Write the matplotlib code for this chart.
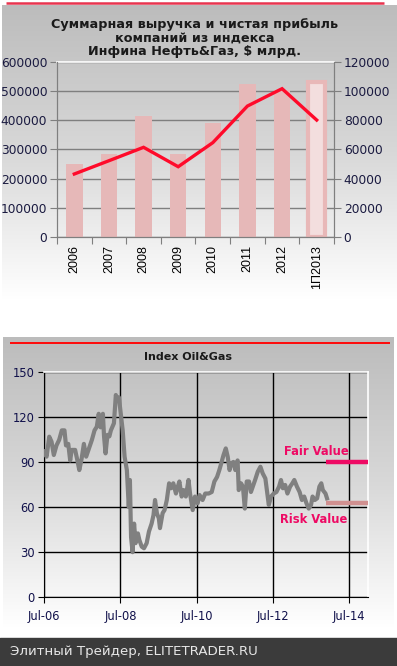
import numpy as np
import matplotlib
matplotlib.use("Agg")
import matplotlib.pyplot as plt
from matplotlib.colors import LinearSegmentedColormap

# ---------------- data ----------------
years = ["2006", "2007", "2008", "2009", "2010", "2011", "2012", "1П2013"]
revenue = [250000, 283000, 415000, 283000, 390000, 525000, 504000, 532000]
profit = [43200, 52300, 61500, 48200, 64700, 89800, 101700, 80200]

idx_t = [2006.50, 2006.56, 2006.63, 2006.69, 2006.75, 2006.82, 2006.89, 2006.96,
         2007.03, 2007.07, 2007.13, 2007.18, 2007.22, 2007.31, 2007.37, 2007.42,
         2007.48, 2007.54, 2007.60, 2007.66, 2007.75, 2007.82, 2007.88, 2007.93,
         2007.98, 2008.04, 2008.07, 2008.11, 2008.16, 2008.21, 2008.25, 2008.29,
         2008.33, 2008.38, 2008.42, 2008.46, 2008.51, 2008.56, 2008.61, 2008.67,
         2008.72, 2008.75, 2008.78, 2008.82, 2008.86, 2008.90, 2008.96, 2009.00,
         2009.06, 2009.12, 2009.19, 2009.25, 2009.32, 2009.37, 2009.41, 2009.46,
         2009.51, 2009.54, 2009.61, 2009.66, 2009.72, 2009.78, 2009.83, 2009.89,
         2009.96, 2010.01, 2010.05, 2010.11, 2010.16, 2010.22, 2010.29, 2010.33,
         2010.40, 2010.46, 2010.53, 2010.58, 2010.66, 2010.73, 2010.82, 2010.90,
         2010.97, 2011.04, 2011.10, 2011.15, 2011.21, 2011.27, 2011.32, 2011.37,
         2011.41, 2011.47, 2011.52, 2011.58, 2011.61, 2011.67, 2011.72, 2011.77,
         2011.82, 2011.88, 2011.93, 2011.98, 2012.04, 2012.11, 2012.18, 2012.24,
         2012.31, 2012.35, 2012.40, 2012.46, 2012.53, 2012.60, 2012.67, 2012.72,
         2012.77, 2012.83, 2012.89, 2012.96, 2013.02, 2013.07, 2013.14, 2013.21,
         2013.27, 2013.33, 2013.39, 2013.45, 2013.51, 2013.55, 2013.61, 2013.67,
         2013.73, 2013.78, 2013.82, 2013.89, 2013.93]
idx_v = [97, 93.5, 106.8, 103.5, 94.6, 101, 104.6, 111,
         111, 101, 102, 91, 98, 98, 91, 84.6,
         92, 102, 93.5, 98, 104.6, 111, 113.4, 122,
         113, 122, 107, 95.7, 108, 107, 111, 113.4,
         115.7, 134.5, 131, 133, 122, 111, 93.5, 84.6,
         60, 78, 40, 30, 49, 36, 42.5, 38,
         33.7, 32.6, 36, 43.7, 49, 54.7, 64.7, 55.8,
         52.5, 46, 56, 58, 64.7, 75.8, 72.5, 75.8,
         69, 73.6, 77, 67, 71.3, 67, 78, 69,
         58, 67, 62.5, 68, 64.7, 69, 69, 70,
         77, 80, 84.6, 89, 94.6, 99, 93.5, 84.6,
         89, 90, 84.6, 91, 71.3, 75.8, 73.6, 59,
         77, 77, 70, 73.6, 78, 83.5, 86.8, 82.4,
         79, 71, 61.4, 67, 69, 70, 73.6, 78,
         72.5, 74.7, 69, 73.6, 75.8, 78, 73.6, 70,
         64.7, 67, 62.5, 59, 61.4, 67, 64.7, 65.8,
         73.6, 75.8, 71.3, 69, 65.8]
fair_value = 90
risk_value = 62.5
x_ticks = [2006.5, 2008.5, 2010.5, 2012.5, 2014.5]
x_tick_labels = ["Jul-06", "Jul-08", "Jul-10", "Jul-12", "Jul-14"]

# ---------------- figure ----------------
W, H = 397, 666
fig = plt.figure(figsize=(W / 100, H / 100), dpi=100)
fig.patch.set_facecolor("white")

def px_rect(x0, y0, x1, y1):
    return [x0 / W, 1 - y1 / H, (x1 - x0) / W, (y1 - y0) / H]

grad_cmap = LinearSegmentedColormap.from_list("g", ["#bcbcbc", "#d8d8d8", "#ffffff"])

def gradient_panel(x0, y0, x1, y1):
    ax = fig.add_axes(px_rect(x0, y0, x1, y1), zorder=-10)
    g = np.linspace(0, 1, 256).reshape(-1, 1)
    ax.imshow(g, aspect="auto", cmap=grad_cmap, extent=[0, 1, 0, 1], origin="upper")
    ax.set_axis_off()
    return ax

gradient_panel(2, 5, 397, 300)
gradient_panel(3, 337, 394, 628)

# header red lines
bg = fig.add_axes([0, 0, 1, 1], zorder=-5)
bg.set_xlim(0, W); bg.set_ylim(H, 0); bg.set_axis_off(); bg.patch.set_alpha(0)
bg.plot([6, 384], [3, 3], color="#e8344e", lw=1.8, solid_capstyle="butt")
bg.plot([10, 390], [343, 343], color="#ff0a0a", lw=1.4, solid_capstyle="butt")
# footer
bg.fill_between([0, W], 638, 666, color="#3b3b3b")
bg.text(10, 652, "Элитный Трейдер, ELITETRADER.RU", color="#e6e6e6",
        fontsize=9.6, va="center", ha="left", family="DejaVu Sans")

navy = "#1a1a40"

# ---------------- upper chart ----------------
ax1 = fig.add_axes(px_rect(57, 62, 334, 237))
ax1.patch.set_alpha(0)
x = np.arange(len(years))
bar_colors = ["#e6b8b8"] * (len(years) - 1) + ["#f3dede"]
edge_colors = ["none"] * (len(years) - 1) + ["#e8b8b8"]
lws = [0] * (len(years) - 1) + [3.0]
ax1.bar(x, revenue, width=0.48, color=bar_colors, edgecolor=edge_colors,
        linewidth=lws, zorder=2)
ax1.set_xlim(-0.5, len(years) - 0.5)
ax1.set_ylim(0, 600000)
ax1.set_yticks(np.arange(0, 600001, 100000))
ax1.set_yticklabels([str(v) for v in range(0, 600001, 100000)])
ax1.yaxis.grid(True, color="#7f7f7f", lw=1.0, zorder=0)
ax1.set_axisbelow(True)
ax1.set_xticks(np.arange(-0.5, len(years), 1))
ax1.set_xticklabels([])
ax1.set_xticks(x, minor=True)
ax1.set_xticklabels(years, minor=True, rotation=90, family="Liberation Sans",
                    fontsize=9, color="#000000")
ax1.tick_params(axis="x", which="minor", length=0, pad=6)
ax1.tick_params(axis="x", which="major", length=5, color="#7f7f7f", direction="out")
ax1.tick_params(axis="y", length=5, color="#7f7f7f", labelsize=8.8,
                labelcolor=navy, pad=2)
for s in ["left", "bottom", "right"]:
    ax1.spines[s].set_color("#7f7f7f")
ax1.spines["top"].set_color("white")
ax1.spines["top"].set_linewidth(1.2)

ax2 = ax1.twinx()
ax2.plot(x, profit, color="#ff0a2a", lw=2.4, zorder=3, solid_joinstyle="miter")
ax2.set_ylim(0, 120000)
ax2.set_yticks(np.arange(0, 120001, 20000))
ax2.set_yticklabels([str(v) for v in range(0, 120001, 20000)])
ax2.tick_params(axis="y", length=5, color="#7f7f7f", labelsize=8.8,
                labelcolor=navy, pad=2)
for s in ["left", "bottom", "right"]:
    ax2.spines[s].set_color("#7f7f7f")
ax2.spines["top"].set_visible(False)

fig.text(195 / W, 1 - 38 / H,
         "Суммарная выручка и чистая прибыль\nкомпаний из индекса\nИнфина Нефть&Газ, $ млрд.",
         ha="center", va="center", fontsize=9.2, fontweight="bold",
         color="#1a1a1a", linespacing=1.05, family="DejaVu Sans")

# ---------------- lower chart ----------------
ax3 = fig.add_axes(px_rect(44.3, 371.7, 367.7, 597.3))
ax3.patch.set_alpha(0)
ax3.plot(idx_t, idx_v, color="#808080", lw=3.0, solid_joinstyle="round", zorder=3)
xmax = 2006.5 + (367.7 - 44.3) / (348.7 - 44.3) * 8
ax3.set_xlim(2006.5, xmax)
ax3.set_ylim(0, 150)
ax3.set_yticks(np.arange(0, 151, 30))
ax3.set_xticks(x_ticks)
ax3.set_xticklabels(x_tick_labels)
ax3.grid(True, color="black", lw=1.0, zorder=1)
ax3.tick_params(axis="both", length=4, color="black", labelsize=8.3,
                labelcolor="#10104a", pad=3)
ax3.tick_params(axis="x", pad=5)
ax3.spines["left"].set_color("black")
ax3.spines["bottom"].set_color("black")
ax3.spines["top"].set_color("white")
ax3.spines["right"].set_color("white")
ax3.spines["top"].set_linewidth(1.2)
ax3.spines["right"].set_linewidth(1.2)

fx0 = 2006.5 + (325.7 - 44.3) / (348.7 - 44.3) * 8
ax3.plot([fx0, xmax], [fair_value, fair_value], color="#ee0a64", lw=3.2,
         solid_capstyle="butt", zorder=4, clip_on=False)
ax3.plot([fx0, xmax], [risk_value, risk_value], color="#d09090", lw=3.2,
         solid_capstyle="butt", zorder=4, clip_on=False)
ax3.text(2013.64, 97, "Fair Value", color="#ee0a64", fontsize=8.3,
         fontweight="bold", ha="center", va="center", zorder=5)
ax3.text(2013.59, 52, "Risk Value", color="#ee0a64", fontsize=8.3,
         fontweight="bold", ha="center", va="center", zorder=5)

fig.text(188 / W, 1 - 357 / H, "Index Oil&Gas", ha="center", va="center",
         fontsize=8.0, fontweight="bold", color="#1a1a1a")

fig.savefig("out.png", dpi=100)
